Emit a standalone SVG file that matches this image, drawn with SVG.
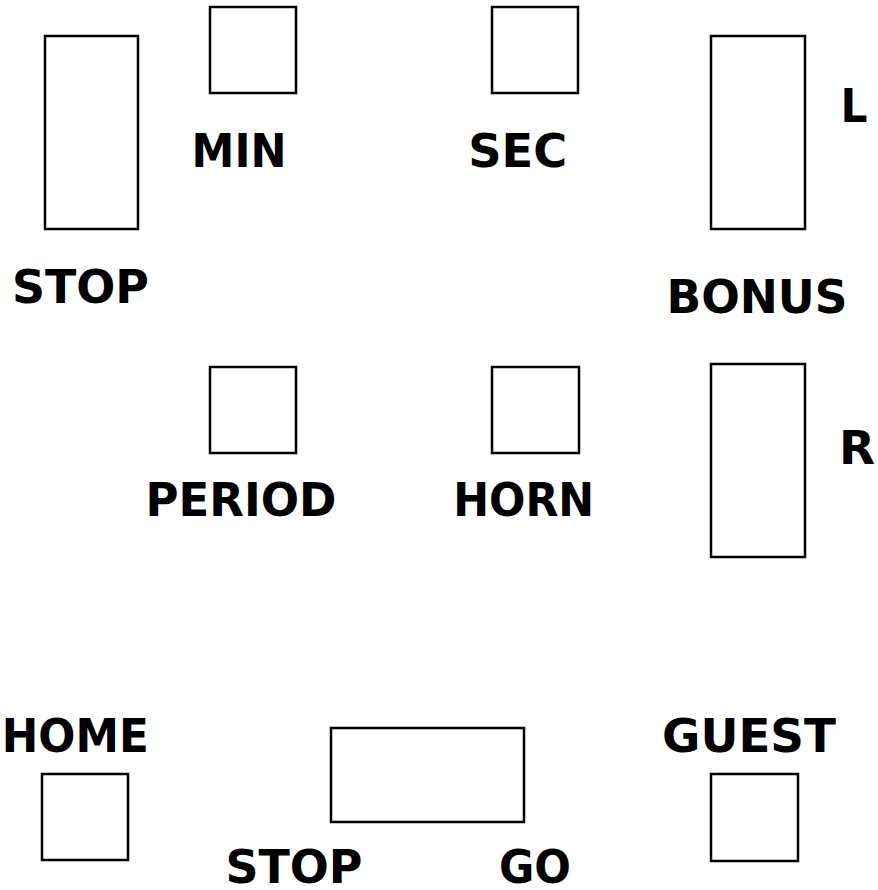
<svg xmlns="http://www.w3.org/2000/svg" width="878" height="890" viewBox="0 0 878 890">
<style>
.box{fill:#fff;stroke:#000;stroke-width:2.5}
.lbl{font-family:"DejaVu Sans","Liberation Sans",sans-serif;font-weight:bold;font-size:46px;fill:#000;text-anchor:middle}
</style>
<rect width="878" height="890" fill="#fff"/>
<g id="stop-top"><rect class="box" x="45" y="36" width="93" height="193"/><text class="lbl" x="80.5" y="303" textLength="137" lengthAdjust="spacingAndGlyphs">STOP</text></g>
<g id="min"><rect class="box" x="210" y="7" width="86" height="86"/><text class="lbl" x="239" y="166.7" textLength="95" lengthAdjust="spacingAndGlyphs">MIN</text></g>
<g id="sec"><rect class="box" x="492" y="7" width="86" height="86"/><text class="lbl" x="517.7" y="166.7" textLength="99" lengthAdjust="spacingAndGlyphs">SEC</text></g>
<g id="bonus-l"><rect class="box" x="711" y="36" width="94" height="193"/><text class="lbl" x="854" y="122.3" textLength="27" lengthAdjust="spacingAndGlyphs">L</text></g>
<g id="bonus"><text class="lbl" x="757" y="313.3" textLength="181" lengthAdjust="spacingAndGlyphs">BONUS</text></g>
<g id="period"><rect class="box" x="210" y="367" width="86" height="86"/><text class="lbl" x="241" y="515.7" textLength="191" lengthAdjust="spacingAndGlyphs">PERIOD</text></g>
<g id="horn"><rect class="box" x="492" y="367" width="87" height="86"/><text class="lbl" x="523.7" y="515.7" textLength="141" lengthAdjust="spacingAndGlyphs">HORN</text></g>
<g id="bonus-r"><rect class="box" x="711" y="364" width="94" height="193"/><text class="lbl" x="857" y="464" textLength="36" lengthAdjust="spacingAndGlyphs">R</text></g>
<g id="home"><text class="lbl" x="75.3" y="751.5" textLength="147" lengthAdjust="spacingAndGlyphs">HOME</text><rect class="box" x="42" y="774" width="86" height="86"/></g>
<g id="stop-go"><rect class="box" x="331" y="728" width="193" height="94"/><text class="lbl" x="294" y="882.7" textLength="137" lengthAdjust="spacingAndGlyphs">STOP</text><text class="lbl" x="535" y="882.7" textLength="72" lengthAdjust="spacingAndGlyphs">GO</text></g>
<g id="guest"><text class="lbl" x="749" y="751.5" textLength="174" lengthAdjust="spacingAndGlyphs">GUEST</text><rect class="box" x="711" y="774" width="87" height="87"/></g>
<g id="connectors"></g>
</svg>
